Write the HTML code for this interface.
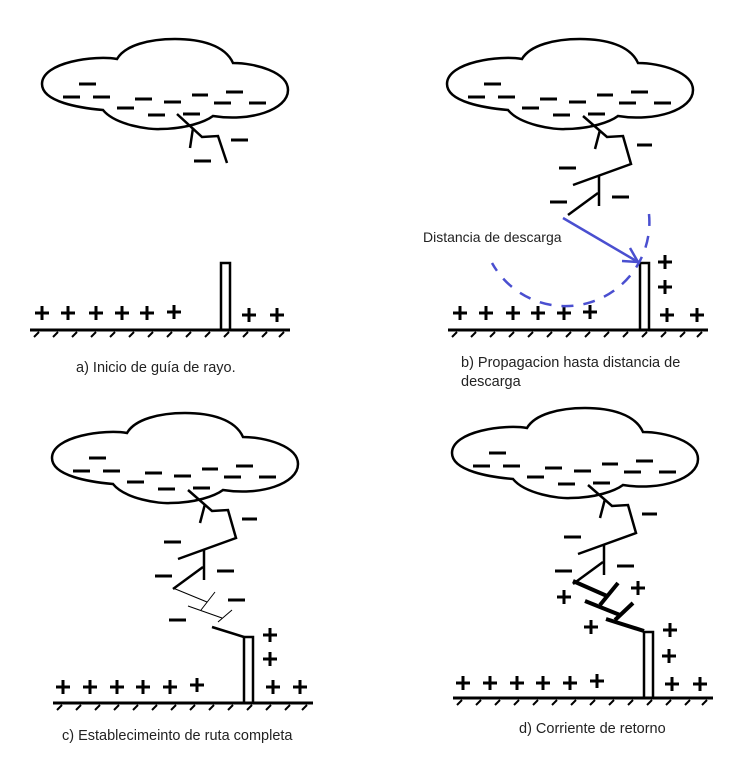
<!DOCTYPE html>
<html><head><meta charset="utf-8"><style>
html,body{margin:0;padding:0;background:#fff;}
svg{display:block;}
text{font-family:"Liberation Sans",sans-serif;font-size:14.5px;fill:#222;}
</style></head><body>
<svg width="734" height="758" viewBox="0 0 734 758" xmlns="http://www.w3.org/2000/svg">
<defs>
<g id="cloud" fill="none" stroke="#000" stroke-width="2.5">
<path d="M117,59 C95,55 42,62 42,84 C42,102 80,108 103,110 C115,125 150,130 160,129 C185,129 205,122 213,116 C250,122 288,110 288,90 C288,72 255,63 233,63 C225,45 200,39 175,39 C150,39 125,45 117,59 Z"/>
<g stroke-width="3">
<path d="M79,84h17M63,97h17M93,97h17M117,108h17M135,99h17M148,115h17M164,102h17M183,114h17M192,95h16M214,103h17M226,92h17M249,103h17"/>
</g>
</g>
<g id="plus" stroke="#000" stroke-width="3"><path d="M-7,0h14M0,-7v14"/></g>
<g id="ground" stroke="#000" fill="none">
<path d="M0,0h260" stroke-width="3"/>
<path stroke-width="2" d="M4,7l5,-5M23,7l5,-5M42,7l5,-5M61,7l5,-5M80,7l5,-5M99,7l5,-5M118,7l5,-5M137,7l5,-5M156,7l5,-5M175,7l5,-5M194,7l5,-5M213,7l5,-5M232,7l5,-5M249,7l5,-5"/>
</g>
<g id="leadB" fill="none" stroke="#000" stroke-width="2.5">
<path d="M583,116 L607,137 L623,136 L631,164 L573,185"/>
<path d="M600,130 L595,149"/>
<path d="M599,176 L599,206"/>
<path d="M568,215 L598,193"/>
<path d="M637,145h15M559,168h17M550,202h17M612,197h17" stroke-width="3"/>
</g>
</defs>

<!-- Panel a -->
<use href="#cloud"/>
<g fill="none" stroke="#000" stroke-width="2.5">
<path d="M177,114 L202,137 L218,136 L227,163"/>
<path d="M193,128 L190,148"/>
<path d="M231,140h17M194,161h17" stroke-width="3"/>
<rect x="221" y="263" width="9" height="67" stroke-width="2.5"/>
</g>
<use href="#ground" x="30" y="330"/>
<use href="#plus" x="42" y="313"/><use href="#plus" x="68" y="313"/><use href="#plus" x="96" y="313"/>
<use href="#plus" x="122" y="313"/><use href="#plus" x="147" y="313"/><use href="#plus" x="174" y="312"/>
<use href="#plus" x="249" y="315"/><use href="#plus" x="277" y="315"/>
<text x="76" y="372">a) Inicio de guía de rayo.</text>

<!-- Panel b -->
<use href="#cloud" x="405"/>
<use href="#leadB"/>
<rect x="640" y="263" width="9" height="67" fill="#fff" stroke="#000" stroke-width="2.5"/>
<use href="#ground" x="448" y="330"/>
<use href="#plus" x="460" y="313"/><use href="#plus" x="486" y="313"/><use href="#plus" x="513" y="313"/>
<use href="#plus" x="538" y="313"/><use href="#plus" x="564" y="313"/><use href="#plus" x="590" y="312"/>
<use href="#plus" x="665" y="262"/><use href="#plus" x="665" y="287"/><use href="#plus" x="667" y="315"/><use href="#plus" x="697" y="315"/>
<g stroke="#4a4fd0" fill="none" stroke-width="2.5">
<path d="M563,218 L638,262"/>
<path d="M638,262 L622,261 M638,262 L630,248"/>
<path d="M649,214 A84,84 0 0,1 492,263" stroke-dasharray="12,10"/>
</g>
<text x="423" y="242" style="font-size:14px">Distancia de descarga</text>
<text x="461" y="367">b) Propagacion hasta distancia de</text>
<text x="461" y="386">descarga</text>

<!-- Panel c -->
<use href="#cloud" x="10" y="374"/>
<use href="#leadB" x="-395" y="374"/>
<g fill="none" stroke="#000">
<path d="M173,588 L207,602 M215,592 L201,610 M188,606 L222,618 M232,610 L218,622" stroke-width="1"/>
<path d="M212,627 L244,637" stroke-width="2.5"/>
<path d="M228,600h17M169,620h17" stroke-width="3"/>
<rect x="244" y="637" width="9" height="66" stroke-width="2.5"/>
</g>
<use href="#ground" x="53" y="703"/>
<use href="#plus" x="63" y="687"/><use href="#plus" x="90" y="687"/><use href="#plus" x="117" y="687"/>
<use href="#plus" x="143" y="687"/><use href="#plus" x="170" y="687"/><use href="#plus" x="197" y="685"/>
<use href="#plus" x="270" y="635"/><use href="#plus" x="270" y="659"/><use href="#plus" x="273" y="687"/><use href="#plus" x="300" y="687"/>
<text x="62" y="740">c) Establecimeinto de ruta completa</text>

<!-- Panel d -->
<use href="#cloud" x="410" y="369"/>
<use href="#leadB" x="5" y="369"/>
<g fill="none" stroke="#000">
<path d="M573,581 L607,596 M618,583 L600,605 M585,601 L620,615 M633,603 L615,620 M606,619 L644,631" stroke-width="4"/>
<rect x="644" y="632" width="9" height="66" stroke-width="2.5"/>
</g>
<use href="#plus" x="564" y="597"/><use href="#plus" x="638" y="588"/><use href="#plus" x="591" y="627"/>
<use href="#ground" x="453" y="698"/>
<use href="#plus" x="463" y="683"/><use href="#plus" x="490" y="683"/><use href="#plus" x="517" y="683"/>
<use href="#plus" x="543" y="683"/><use href="#plus" x="570" y="683"/><use href="#plus" x="597" y="681"/>
<use href="#plus" x="670" y="630"/><use href="#plus" x="669" y="656"/><use href="#plus" x="672" y="684"/><use href="#plus" x="700" y="684"/>
<text x="519" y="733">d) Corriente de retorno</text>
</svg>
</body></html>
